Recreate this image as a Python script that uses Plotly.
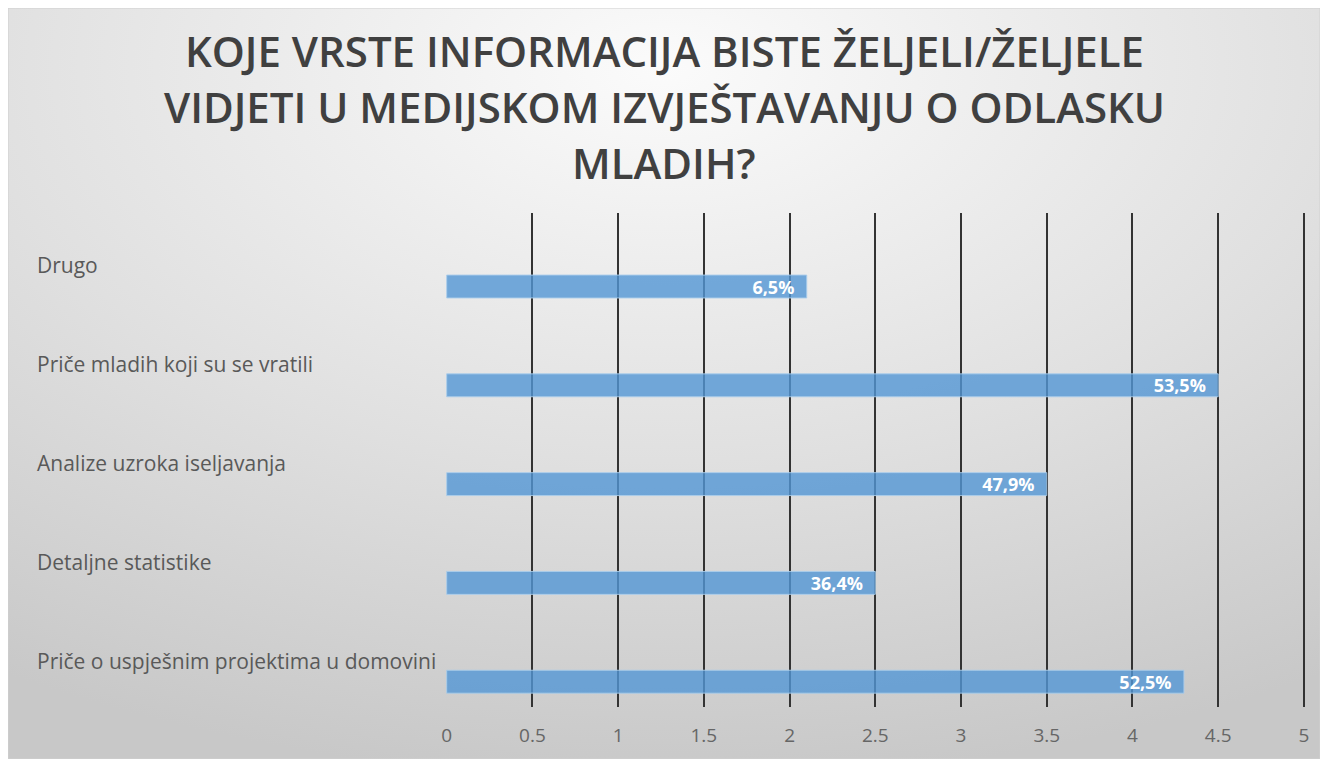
import base64
import plotly.graph_objects as go

# ───────────── DATOS ─────────────
kategorije = [
    "Priče o uspješnim projektima u domovini",
    "Detaljne statistike",
    "Analize uzroka iseljavanja",
    "Priče mladih koji su se vratili",
    "Drugo",
]
vrijednosti = [4.3, 2.5, 3.5, 4.5, 2.1]
oznake = ["52,5%", "36,4%", "47,9%", "53,5%", "6,5%"]
naslov = [
    "KOJE VRSTE INFORMACIJA BISTE ŽELJELI/ŽELJELE",
    "VIDJETI U MEDIJSKOM IZVJEŠTAVANJU O ODLASKU",
    "MLADIH?",
]
x_tickovi = [0, 0.5, 1, 1.5, 2, 2.5, 3, 3.5, 4, 4.5, 5]

# ───────────── DIMENZIJE ─────────────
W, H = 1312, 751
ML, MR, MT, MB = 438, 14, 205, 52
PW, PH = W - ML - MR, H - MT - MB

# pozadina s gradijentom (kao u Excelu)
svg = f"""<svg xmlns='http://www.w3.org/2000/svg' width='{W}' height='{H}' viewBox='0 0 {W} {H}' preserveAspectRatio='none'>
<defs><radialGradient id='g' cx='50%' cy='8%' r='95%' fx='50%' fy='8%'>
<stop offset='0' stop-color='#fbfbfb'/><stop offset='0.55' stop-color='#e0e0e0'/><stop offset='1' stop-color='#c8c8c8'/>
</radialGradient></defs><rect x='0' y='0' width='{W}' height='{H}' fill='url(#g)'/></svg>"""
bg_uri = "data:image/svg+xml;base64," + base64.b64encode(svg.encode("utf-8")).decode("ascii")

fig = go.Figure(go.Bar(
    y=kategorije,
    x=vrijednosti,
    orientation="h",
    width=0.232,
    offset=-0.36,
    marker=dict(color="rgba(82,150,213,0.8)", line=dict(color="rgba(170,205,235,0.9)", width=1)),
    text=oznake,
    texttemplate="%{text}  ",
    textposition="inside",
    insidetextanchor="end",
    constraintext="none",
    textfont=dict(family="Open Sans", size=18, color="white", weight="bold"),
    cliponaxis=False,
    hoverinfo="skip",
))

anns = []
for i, red in enumerate(naslov):
    anns.append(dict(text=red, xref="paper", yref="paper", x=(W / 2 - ML) / PW,
                     y=1 + (MT - 42 - i * 56) / PH, xanchor="center", yanchor="middle",
                     showarrow=False,
                     font=dict(family="Open Sans", size=42, color="#404040", weight=600)))
for k in kategorije:
    anns.append(dict(text=k, xref="paper", yref="y", x=(27 - ML) / PW, y=k, yshift=-3,
                     xanchor="left", yanchor="middle", showarrow=False,
                     font=dict(family="Open Sans", size=21, color="#595959")))

fig.update_layout(
    width=W, height=H,
    margin=dict(l=ML, r=MR, t=MT, b=MB),
    paper_bgcolor="#e6e6e6",
    plot_bgcolor="rgba(0,0,0,0)",
    showlegend=False,
    annotations=anns,
    images=[dict(source=bg_uri, xref="paper", yref="paper", x=-ML / PW, y=1 + MT / PH,
                 sizex=W / PW, sizey=H / PH, sizing="stretch", xanchor="left", yanchor="top",
                 layer="below")],
    shapes=[dict(type="rect", xref="paper", yref="paper", x0=-ML / PW, x1=1 + MR / PW,
                 y0=-MB / PH, y1=1 + MT / PH, line=dict(color="#d0d0d0", width=1))],
    xaxis=dict(range=[-0.004, 5.012], tickvals=x_tickovi, ticktext=[f"{v:g}" for v in x_tickovi],
               showgrid=True, gridcolor="#333333", gridwidth=2, zeroline=False,
               showline=False, ticks="", ticklabelstandoff=15,
               tickfont=dict(family="Open Sans", size=19, color="#666666"), fixedrange=True),
    yaxis=dict(categoryorder="array", categoryarray=kategorije, range=[-0.5, 4.5],
               showticklabels=False, showgrid=False, zeroline=False, showline=False,
               ticks="", fixedrange=True),
)

fig.write_html("out.html")
